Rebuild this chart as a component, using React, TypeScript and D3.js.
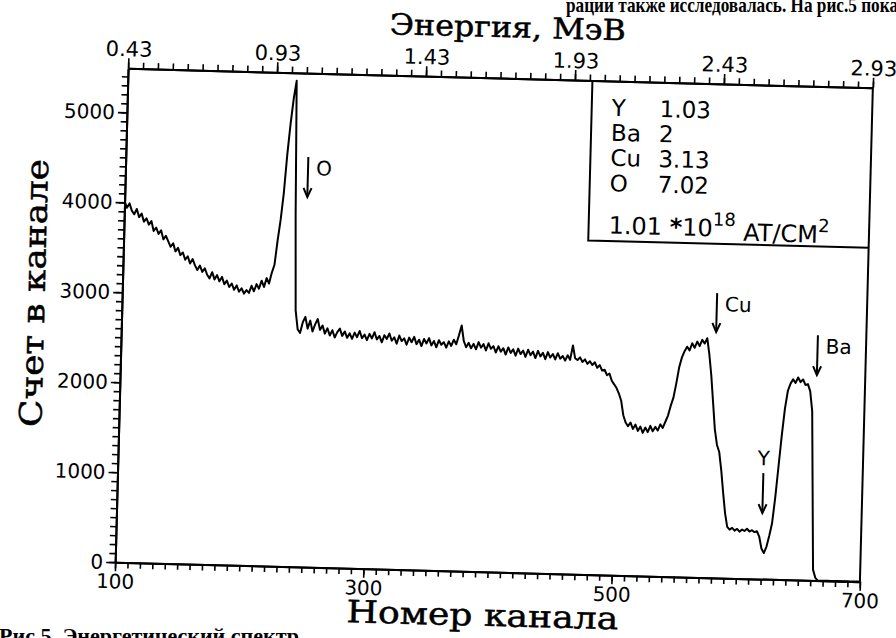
import React, { useEffect, useRef } from "react";
import * as d3 from "d3";

const W = 896;
const H = 638;
const frame = { left: 121.5, right: 866.5, top: 78, bottom: 572 };
// the scanned page is slightly turned
const tilt = 1.5;
const tiltCenter = [494, 325];

const channelDomain = [100, 700];
const countDomain = [0, 5490];
const energyDomain = [0.43, 2.93];

const channelTicks = [100, 300, 500, 700];
const countTicks = [0, 1000, 2000, 3000, 4000, 5000];
const energyTicks = [0.43, 0.93, 1.43, 1.93, 2.43, 2.93];

// spectrum, one value every 2 channels starting at channel 100
const channelStart = 100;
const channelStep = 2;
const counts = [
  4010, 3940, 3990, 3910, 3870, 3930, 3840, 3880, 3790, 3830,
  3760, 3800, 3690, 3730, 3660, 3700, 3600, 3640, 3580, 3520,
  3560, 3470, 3510, 3430, 3460, 3380, 3420, 3340, 3390, 3320,
  3270, 3320, 3250, 3290, 3220, 3180, 3250, 3170, 3220, 3150,
  3200, 3120, 3160, 3090, 3130, 3060, 3110, 3040, 3080, 3020,
  3060, 3030, 3110, 3050, 3130, 3080, 3170, 3100, 3200, 3140,
  3260, 3350, 3620, 3850, 4150, 4580, 4920, 5200, 5400, 3900,
  2850, 2640,
  2600, 2720, 2780, 2650, 2740, 2620, 2700, 2760, 2640, 2690,
  2600, 2660, 2580, 2640, 2560, 2620, 2660, 2580, 2630, 2560,
  2610, 2550, 2620, 2570, 2640, 2560, 2600, 2540, 2610, 2560,
  2630, 2550, 2590, 2520, 2600, 2560, 2620, 2540, 2580, 2510,
  2600, 2540, 2570, 2500, 2580, 2530, 2590, 2510, 2560, 2490,
  2570, 2520, 2580, 2500, 2550, 2480, 2560, 2510, 2540, 2480,
  2550, 2500, 2570, 2520, 2620, 2730, 2560, 2490, 2540, 2480,
  2530, 2470, 2550, 2490, 2530, 2460, 2540, 2480, 2510, 2440,
  2510, 2450, 2490, 2420, 2500, 2440, 2480, 2410, 2490, 2430,
  2470, 2400, 2480, 2420, 2460, 2390, 2470, 2410, 2450, 2380,
  2460, 2400, 2440, 2380, 2450, 2390, 2420, 2370, 2430, 2380,
  2540, 2400, 2380, 2410, 2360, 2390, 2340, 2370, 2330,
  2360, 2300, 2330, 2270, 2280, 2220, 2240, 2160, 2120, 2080,
  2020, 1940, 1780, 1700, 1660, 1700, 1630, 1680, 1610, 1660,
  1590, 1650, 1600, 1670, 1610, 1660, 1620, 1690, 1650, 1720,
  1790, 1900, 1990, 2150, 2330, 2440, 2510, 2560, 2520, 2600,
  2550, 2620, 2570, 2640, 2600, 2660, 2480, 2250, 1950, 1650,
  1480, 1400, 1200, 950, 720, 570, 540, 560, 530, 550,
  520, 545, 530, 555, 525, 540, 520, 530, 470, 340,
  290, 360, 480, 620, 900, 1250, 1600, 1900, 2100, 2180,
  2230, 2190, 2250, 2200, 2230, 2170, 2180, 2100, 1880, 1000,
  120, 30,
  0, 0, 0, 0, 0, 0, 0, 0, 0, 0,
  0, 0, 0, 0, 0, 0, 0, 0,
];

// edge markers: element, channel, arrow top / bottom in counts
const edgeNames = ["O", "Cu", "Ba", "Y"];
const edgeChannels = [247, 579, 661, 620];
const edgeTop = [4557, 3164, 2726, 1178];
const edgeBottom = [4112, 2731, 2282, 733];

const legendElements = ["Y", "Ba", "Cu", "O"];
const legendValues = ["1.03", "2", "3.13", "7.02"];
const legendDose = "1.01";

const axisFont = "'DejaVu Sans', 'Liberation Sans', sans-serif";
const titleFont = "'DejaVu Serif', 'Liberation Serif', serif";
const pageFont = "'Liberation Serif', 'DejaVu Serif', serif";

const App = () => {
  const ref = useRef<SVGSVGElement>(null);

  useEffect(() => {
    const svg = d3.select(ref.current);
    svg.selectAll("*").remove();

    const x = d3.scaleLinear(channelDomain, [frame.left, frame.right]);
    const y = d3.scaleLinear(countDomain, [frame.bottom, frame.top]);
    const e = d3.scaleLinear(energyDomain, [frame.left, frame.right]);

    // bits of the page text around the figure
    svg.append("text")
      .attr("x", 566).attr("y", 12)
      .attr("font-family", pageFont).attr("font-weight", "bold")
      .attr("font-size", 22)
      .attr("textLength", 332).attr("lengthAdjust", "spacingAndGlyphs")
      .text("рации также исследовалась. На рис.5 пока");
    svg.append("text")
      .attr("x", -1).attr("y", 643)
      .attr("font-family", pageFont).attr("font-weight", "bold")
      .attr("font-size", 21)
      .attr("textLength", 300).attr("lengthAdjust", "spacingAndGlyphs")
      .text("Рис.5. Энергетический  спектр");

    const g = svg.append("g")
      .attr("transform", `rotate(${tilt} ${tiltCenter[0]} ${tiltCenter[1]})`);

    const styleAxis = (sel, size) => {
      sel.select(".domain").attr("stroke", "#000").attr("stroke-width", 2);
      sel.selectAll(".tick line").attr("stroke", "#000").attr("stroke-width", 1.6);
      sel.selectAll(".tick text")
        .attr("fill", "#000")
        .attr("font-family", axisFont)
        .attr("font-size", size);
    };

    // bottom: channel number
    const chMinor = d3.range(channelDomain[0], channelDomain[1] + 1, 10);
    g.append("g")
      .attr("transform", `translate(0,${frame.bottom})`)
      .call(d3.axisBottom(x).tickValues(chMinor).tickSize(6).tickSizeOuter(0).tickFormat(() => ""))
      .call((s) => styleAxis(s, 19));
    g.append("g")
      .attr("transform", `translate(0,${frame.bottom})`)
      .call(d3.axisBottom(x).tickValues(channelTicks).tickSize(9).tickSizeOuter(0).tickPadding(3).tickFormat(d3.format("d")))
      .call((s) => styleAxis(s, 20));

    // left: counts
    const cMinor = d3.range(0, 5401, 100);
    g.append("g")
      .attr("transform", `translate(${frame.left},0)`)
      .call(d3.axisLeft(y).tickValues(cMinor).tickSize(6).tickSizeOuter(0).tickFormat(() => ""))
      .call((s) => styleAxis(s, 19));
    g.append("g")
      .attr("transform", `translate(${frame.left},0)`)
      .call(d3.axisLeft(y).tickValues(countTicks).tickSize(9).tickSizeOuter(0).tickPadding(3).tickFormat(d3.format("d")))
      .call((s) => styleAxis(s, 20));

    // top: energy
    const eMinor = d3.range(0, 51).map((i) => energyDomain[0] + i * 0.05);
    g.append("g")
      .attr("transform", `translate(0,${frame.top})`)
      .call(d3.axisTop(e).tickValues(eMinor).tickSize(6).tickSizeOuter(0).tickFormat(() => ""))
      .call((s) => styleAxis(s, 19));
    g.append("g")
      .attr("transform", `translate(0,${frame.top})`)
      .call(d3.axisTop(e).tickValues(energyTicks).tickSize(10).tickSizeOuter(0).tickPadding(2).tickFormat(d3.format(".2f")))
      .call((s) => styleAxis(s, 21));

    // right side of the frame
    g.append("line")
      .attr("x1", frame.right).attr("x2", frame.right)
      .attr("y1", frame.top).attr("y2", frame.bottom)
      .attr("stroke", "#000").attr("stroke-width", 2);

    // axis titles
    const title = (sel) =>
      sel.attr("text-anchor", "middle")
        .attr("font-family", titleFont)
        .attr("stroke", "#000").attr("stroke-width", 0.5)
        .attr("lengthAdjust", "spacingAndGlyphs");
    g.append("text")
      .attr("x", 500).attr("y", 37)
      .attr("font-size", 29).attr("textLength", 236)
      .call(title)
      .text("Энергия, МэВ");
    g.append("text")
      .attr("x", 490).attr("y", 626)
      .attr("font-size", 31).attr("textLength", 272)
      .call(title)
      .text("Номер канала");
    g.append("text")
      .attr("transform", `translate(44,${(frame.top + frame.bottom) / 2 - 20}) rotate(-90)`)
      .attr("font-size", 31).attr("textLength", 268)
      .call(title)
      .text("Счет в канале");

    // spectrum
    const channels = counts.map((_, i) => channelStart + i * channelStep);
    const line = d3.line<number>()
      .x((_, i) => x(channels[i]))
      .y((d) => y(d));
    g.append("path")
      .datum(counts)
      .attr("fill", "none")
      .attr("stroke", "#000")
      .attr("stroke-width", 2)
      .attr("stroke-linejoin", "round")
      .attr("d", line);

    // edge arrows
    edgeNames.forEach((name, i) => {
      const ax = x(edgeChannels[i]);
      const y1 = y(edgeTop[i]);
      const y2 = y(edgeBottom[i]);
      g.append("line")
        .attr("x1", ax).attr("x2", ax).attr("y1", y1).attr("y2", y2)
        .attr("stroke", "#000").attr("stroke-width", 2);
      g.append("path")
        .attr("d", `M${ax - 4},${y2 - 9}L${ax},${y2}L${ax + 4},${y2 - 9}`)
        .attr("fill", "none").attr("stroke", "#000").attr("stroke-width", 2);
      const label = g.append("text")
        .attr("font-family", axisFont).attr("font-size", 20)
        .text(name);
      if (name === "Y") {
        label.attr("x", ax).attr("y", y1 - 8).attr("text-anchor", "middle");
      } else {
        label.attr("x", ax + 8).attr("y", y1 + 18);
      }
    });

    // composition box in the upper right corner
    const box = { left: 586, bottom: 238 };
    g.append("path")
      .attr("d", `M${box.left},${frame.top}V${box.bottom}H${frame.right}`)
      .attr("fill", "none").attr("stroke", "#000").attr("stroke-width", 2);
    const rows = [104.5, 129.5, 154.5, 180];
    legendElements.forEach((el, i) => {
      g.append("text")
        .attr("x", box.left + 20).attr("y", rows[i]).attr("dy", "0.36em")
        .attr("font-family", axisFont).attr("font-size", 23)
        .text(el);
      g.append("text")
        .attr("x", box.left + 68).attr("y", rows[i]).attr("dy", "0.36em")
        .attr("font-family", axisFont).attr("font-size", 23)
        .text(legendValues[i]);
    });
    const dose = g.append("text")
      .attr("x", box.left + 20).attr("y", 222).attr("dy", "0.36em")
      .attr("font-family", axisFont).attr("font-size", 24);
    dose.append("tspan").text(`${legendDose}  `);
    dose.append("tspan").attr("font-weight", "bold").text("*");
    dose.append("tspan").text("10");
    dose.append("tspan").attr("dy", "-0.6em").attr("font-size", 18).text("18");
    dose.append("tspan").attr("dy", "0.6em").text(" AT/CM");
    dose.append("tspan").attr("dy", "-0.6em").attr("font-size", 18).text("2");
  }, []);

  return (
    <svg
      ref={ref}
      width={W}
      height={H}
      style={{ position: "absolute", left: 0, top: 0, background: "#fff" }}
    />
  );
};

export default App;
